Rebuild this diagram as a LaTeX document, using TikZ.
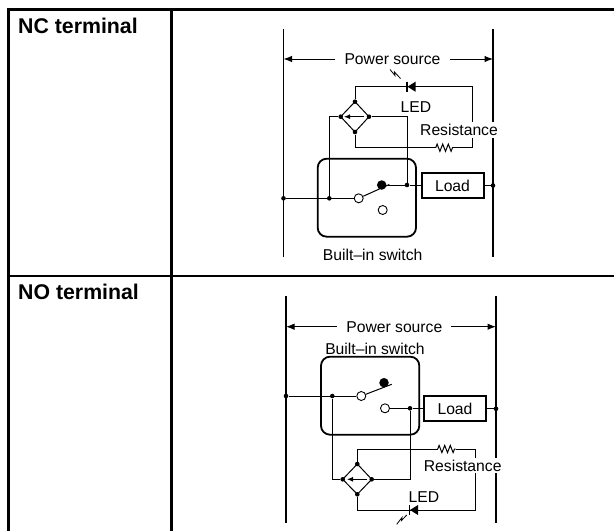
\documentclass[tikz,border=0pt]{standalone}
\usepackage{fontspec}
\setmainfont{Liberation Sans}
\usetikzlibrary{arrows.meta}
\usetikzlibrary{decorations.pathmorphing}

\tikzset{
  wire/.style={line width=1pt},
  rail/.style={line width=1.2pt},
  grid/.style={line width=3pt},
  dot/.style={circle, fill, inner sep=0pt, minimum size=4.6pt},
  contact/.style={circle, draw, fill=white, line width=0.9pt, inner sep=0pt, minimum size=9pt},
  closed/.style={circle, fill, inner sep=0pt, minimum size=9.5pt},
  lab/.style={font=\fontsize{15.7}{17}\selectfont, inner sep=0pt},
  head/.style={font=\fontsize{21.3}{23}\selectfont\bfseries, anchor=west, inner sep=0pt},
  loadbox/.style={draw, line width=2pt, inner sep=0pt, minimum width=62pt, minimum height=25pt, font=\fontsize{15.7}{17}\selectfont},
  swbox/.style={line width=1.8pt, rounded corners=9pt},
  res/.style={decorate, decoration={zigzag, amplitude=3.6pt, segment length=5.6pt}},
  tip/.style={-{Latex[length=8.5pt,width=6.5pt]}}
}

\begin{document}
\begin{tikzpicture}[x=1pt, y=-1pt]
\useasboundingbox (0,0) rectangle (614,531);

% table
\coordinate (t1) at (7,9.5);
\coordinate (t2) at (614,9.5);
\coordinate (t3) at (8.5,531);
\coordinate (t4) at (171.5,9.5);
\coordinate (t5) at (171.5,531);
\coordinate (t6) at (8.5,276);
\coordinate (t7) at (614,276);
\draw[grid] (t1) -- (t2);
\draw[grid] (t1 -| t3) -- (t3);
\draw[grid] (t4) -- (t5);
\draw[line width=2pt] (t6) -- (t7);
\node[head] (nc) at (18,25.5) {NC terminal};
\node[head] (no) at (18,292) {NO terminal};

% NC terminal
\coordinate (la) at (283.5,29);
\coordinate (lb) at (283.5,257);
\coordinate (ra) at (493,29);
\coordinate (rb) at (493,257);
\draw[rail] (la) -- (lb);
\draw[rail] (ra) -- (rb);

\node[lab, inner xsep=9pt] (srcA) at (392.5,59) {Power source};
\coordinate (srcAl) at (283.5,59);
\coordinate (srcAr) at (493,59);
\draw[tip, wire] (srcA.west) -- (srcAl);
\draw[tip, wire] (srcA.east) -- (srcAr);

\draw[swbox] (317.7,158.7) rectangle (416,236.7);
\node[lab] (swA) at (372.7,255) {Built--in switch};

\node[dot] (inA) at (283.5,198.3) {};
\node[dot] (jA) at (329.3,198.3) {};
\node[contact] (comA) at (358.7,198.3) {};
\node[closed] (ncA) at (381.7,185) {};
\node[contact] (noA) at (382.7,210) {};
\node[dot] (kA) at (407,185) {};
\node[loadbox] (loadA) at (452.5,185.5) {Load};
\node[dot] (outA) at (493,185.5) {};
\coordinate (armA) at (389.3,184.5);

\draw[wire] (inA) -- (comA);
\draw[wire] (comA) -- (armA);
\draw[wire] (ncA) -- (kA);
\draw[wire] (kA) -- (loadA.west |- kA);
\draw[wire] (loadA) -- (outA);

\node[dot] (topA) at (355,101.7) {};
\node[dot] (leftA) at (340.7,116.7) {};
\node[dot] (rightA) at (369,116.7) {};
\node[dot] (botA) at (355,132) {};
\draw[wire] (topA.center) -- (rightA.center) -- (botA.center) -- (leftA.center) -- cycle;
\coordinate (bfAr) at (364,116.7);
\coordinate (bfAl) at (344,116.7);
\draw[wire, -{Latex[length=6pt,width=5pt]}] (bfAr) -- (bfAl);

\draw[wire] (leftA) -| (jA);
\draw[wire] (rightA) -| (kA);

\coordinate (ledAl) at (355,86.7);
\coordinate (ledAr) at (472.7,86.7);
\coordinate (resAa) at (435.7,147.7);
\coordinate (resAb) at (453,147.7);
\coordinate (resAc) at (472.7,147.7);
\draw[wire] (topA) -- (ledAl) -- (ledAr) -- (resAc) -- (resAb);
\draw[wire] (botA) |- (resAa);
\draw[wire, res] (resAa) -- (resAb);

\fill (415.5,81.7) -- (415.5,91.7) -- (407.5,86.7) -- cycle;
\draw[line width=1.8pt] (407,81.7) -- (407,91.7);
\draw[line width=0.8pt] (390,69.5) -- (395,75.5) -- (394.5,72) -- (400.5,78.5);

\node[lab, fill=white, inner ysep=2pt] (resTxtA) at (459,130) {Resistance};
\node[lab] (ledTxtA) at (416,106.7) {LED};

% NO terminal
\coordinate (lc) at (286,296);
\coordinate (ld) at (286,523);
\coordinate (rc) at (496,296);
\coordinate (rd) at (496,523);
\draw[rail] (lc) -- (ld);
\draw[rail] (rc) -- (rd);

\node[lab, inner xsep=9pt] (srcB) at (394.3,326.7) {Power source};
\coordinate (srcBl) at (286,326.7);
\coordinate (srcBr) at (496,326.7);
\draw[tip, wire] (srcB.west) -- (srcBl);
\draw[tip, wire] (srcB.east) -- (srcBr);

\draw[swbox] (321,356.7) rectangle (419.3,434.7);
\node[lab] (swB) at (375,349) {Built--in switch};

\node[dot] (inB) at (286,396) {};
\node[dot] (jB) at (332.3,396) {};
\node[contact] (comB) at (361.3,396) {};
\node[closed] (ncB) at (384,382.7) {};
\node[contact] (noB) at (385,408.3) {};
\node[dot] (kB) at (410,408.3) {};
\node[loadbox] (loadB) at (455,408.8) {Load};
\node[dot] (outB) at (496,408.8) {};
\coordinate (armB) at (391.7,384.3);

\draw[wire] (inB) -- (comB);
\draw[wire] (comB) -- (armB);
\draw[wire] (noB) -- (kB);
\draw[wire] (kB) -- (loadB.west |- kB);
\draw[wire] (loadB) -- (outB);

\node[dot] (topB) at (357.3,464) {};
\node[dot] (leftB) at (342.7,479.3) {};
\node[dot] (rightB) at (371.7,479.3) {};
\node[dot] (botB) at (357.3,494.3) {};
\draw[wire] (topB.center) -- (rightB.center) -- (botB.center) -- (leftB.center) -- cycle;
\coordinate (bfBr) at (367,479.3);
\coordinate (bfBl) at (347,479.3);
\draw[wire, -{Latex[length=6pt,width=5pt]}] (bfBr) -- (bfBl);

\draw[wire] (leftB) -| (jB);
\draw[wire] (rightB) -| (kB);

\coordinate (ledBl) at (357.3,510);
\coordinate (ledBr) at (475,510);
\coordinate (resBa) at (437.7,449);
\coordinate (resBb) at (455.7,449);
\coordinate (resBc) at (475,449);
\draw[wire] (botB) -- (ledBl) -- (ledBr) -- (resBc) -- (resBb);
\draw[wire] (topB) |- (resBa);
\draw[wire, res] (resBa) -- (resBb);

\fill (418,505) -- (418,515) -- (410,510) -- cycle;
\draw[line width=1.8pt] (409.5,505) -- (409.5,515);
\draw[line width=0.8pt] (406.7,515) -- (401.5,520.5) -- (402,517.5) -- (396.7,524.3);

\node[lab, fill=white, inner ysep=2pt] (resTxtB) at (462.7,465.7) {Resistance};
\node[lab] (ledTxtB) at (424,496.7) {LED};

\end{tikzpicture}
\end{document}
